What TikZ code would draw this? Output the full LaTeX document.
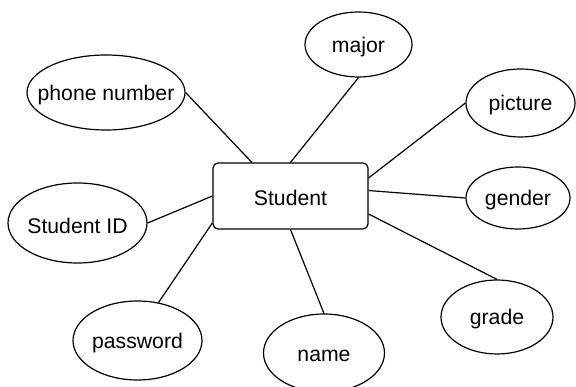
\documentclass[tikz,border=0pt]{standalone}
\usepackage{fontspec}
\setmainfont{Liberation Sans}
\usetikzlibrary{shapes.geometric}

% text of an attribute, kept out of the ellipse's size
\newcommand{\attrlbl}[1]{\raisebox{-2.5pt}[\height][\depth]{\makebox[0pt]{#1}}}

\tikzset{
  attr/.style={ellipse, draw, line width=1.2pt, inner sep=0pt},
  entity/.style={rectangle, draw, line width=1.2pt, rounded corners=5pt,
    minimum width=155pt, minimum height=66pt},
  link/.style={line width=1.2pt}
}

\begin{document}
\begin{tikzpicture}[x=1pt, y=-1pt, font=\fontsize{21.2}{25}\selectfont]

      \useasboundingbox (0,0) rectangle (576,387);

      \node[entity] (stu) at (290.5,196) {\raisebox{-2pt}[\height][\depth]{Student}};

      \node[attr, minimum width=158pt, minimum height=75pt] (phone) at (106,92.5) {\attrlbl{phone number}};
      \node[attr, minimum width=107pt, minimum height=65pt] (major) at (358.5,44.5) {\attrlbl{major}};
      \node[attr, minimum width=109pt, minimum height=68pt] (pic) at (520.5,103) {\attrlbl{picture}};
      \node[attr, minimum width=104pt, minimum height=62pt] (gender) at (518,198) {\attrlbl{gender}};
      \node[attr, minimum width=112pt, minimum height=74pt] (grade) at (497,317) {\attrlbl{grade}};
      \node[attr, minimum width=121pt, minimum height=78pt] (name) at (324,353) {\attrlbl{name}};
      \node[attr, minimum width=139pt, minimum height=80pt] (sid) at (77.5,223) {\attrlbl{Student ID}};
      \node[attr, minimum width=129pt, minimum height=79pt] (pw) at (137.5,340.5) {\attrlbl{password}};

      \draw[link] (phone.east) -- (stu.139);
      \draw[link] (major.south) -- (stu.north);
      \draw[link] (pic.west) -- (stu.13);
      \draw[link] (gender.west) -- (stu.4);
      \draw[link] (grade.north) -- (stu.-13);
      \draw[link] (name.north) -- (stu.south);
      \draw[link] (sid.east) -- (stu.west);
      \draw[link] (pw.61) -- (stu.199);

\end{tikzpicture}
\end{document}
